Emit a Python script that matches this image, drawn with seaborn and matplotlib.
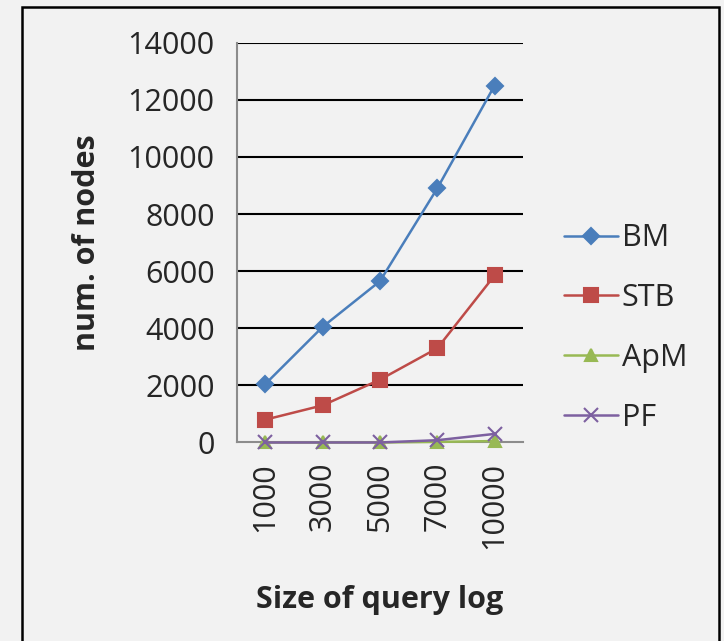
import matplotlib
matplotlib.use("Agg")
import matplotlib.pyplot as plt
from matplotlib.patches import Rectangle
import seaborn as sns
import pandas as pd

# query log sizes (category labels on the x axis)
sizes = ["1000", "3000", "5000", "7000", "10000"]

# number of nodes per method
bm = [2050, 4050, 5650, 8900, 12500]
stb = [800, 1300, 2200, 3300, 5850]
apm = [0, 0, 0, 20, 50]
pf = [0, 0, 0, 80, 300]

methods = ["BM", "STB", "ApM", "PF"]
series = [bm, stb, apm, pf]
colors = ["#4a7ebb", "#be4b48", "#98b954", "#7d60a0"]
markers = ["D", "s", "^", "x"]
msizes = [8, 9.5, 9, 10]
y_ticks = [0, 2000, 4000, 6000, 8000, 10000, 12000, 14000]

sns.set_theme(style="white")
plt.rcParams["font.family"] = ["Open Sans", "DejaVu Sans"]

bg = "#f2f2f2"
fig = plt.figure(figsize=(7.24, 6.41), dpi=100, facecolor=bg)
ax = fig.add_axes([0.327, 0.3097, 0.3957, 0.6237])
ax.set_facecolor(bg)

for name, vals, col, mk, ms in zip(methods, series, colors, markers, msizes):
    df = pd.DataFrame({"size": sizes, "nodes": vals})
    sns.lineplot(
        data=df, x="size", y="nodes", color=col, marker=mk,
        markersize=ms, markeredgewidth=1.5, markeredgecolor=col,
        linewidth=1.8, sort=False, label=name, ax=ax, zorder=3,
        clip_on=False,
    )

ax.set_xlim(-0.5, len(sizes) - 0.5)
ax.set_ylim(0, 14000)
ax.set_yticks(y_ticks)
ax.set_yticklabels([str(t) for t in y_ticks], fontsize=22)

# horizontal gridlines
for t in y_ticks[1:]:
    ax.axhline(t, color="black", lw=1.5, zorder=1)

# category labels at centres, tick marks at category boundaries
ax.set_xticks(range(len(sizes)))
ax.set_xticklabels(sizes, rotation=90, fontsize=22)
ax.tick_params(axis="x", which="major", length=0, pad=14)
ax.set_xticks([i - 0.5 for i in range(len(sizes) + 1)], minor=True)
ax.tick_params(axis="x", which="minor", length=10, width=1.5, color="#8c8c8c", direction="out")
ax.tick_params(axis="y", length=10, width=1.5, color="#8c8c8c", direction="out", pad=6)

for side in ["top", "right"]:
    ax.spines[side].set_visible(False)
for side in ["left", "bottom"]:
    ax.spines[side].set_color("#8c8c8c")
    ax.spines[side].set_linewidth(1.5)

ax.set_xlabel("Size of query log", fontsize=22, fontweight="bold", labelpad=26)
ax.set_ylabel("num. of nodes", fontsize=22, fontweight="bold", labelpad=18)

handles, labels = ax.get_legend_handles_labels()
leg = ax.legend(
    handles, labels, loc="center left", bbox_to_anchor=(1.10, 0.286),
    frameon=False, fontsize=22, handlelength=1.76, handletextpad=0.13,
    labelspacing=0.98, borderaxespad=0,
)

# outer frame around the chart
fig.patches.append(Rectangle((22 / 724, -0.05), (719 - 22) / 724, 1.05 - 7 / 641,
                             transform=fig.transFigure, fill=False,
                             edgecolor="black", lw=1.8))

fig.savefig("out.png", dpi=100, facecolor=bg)
